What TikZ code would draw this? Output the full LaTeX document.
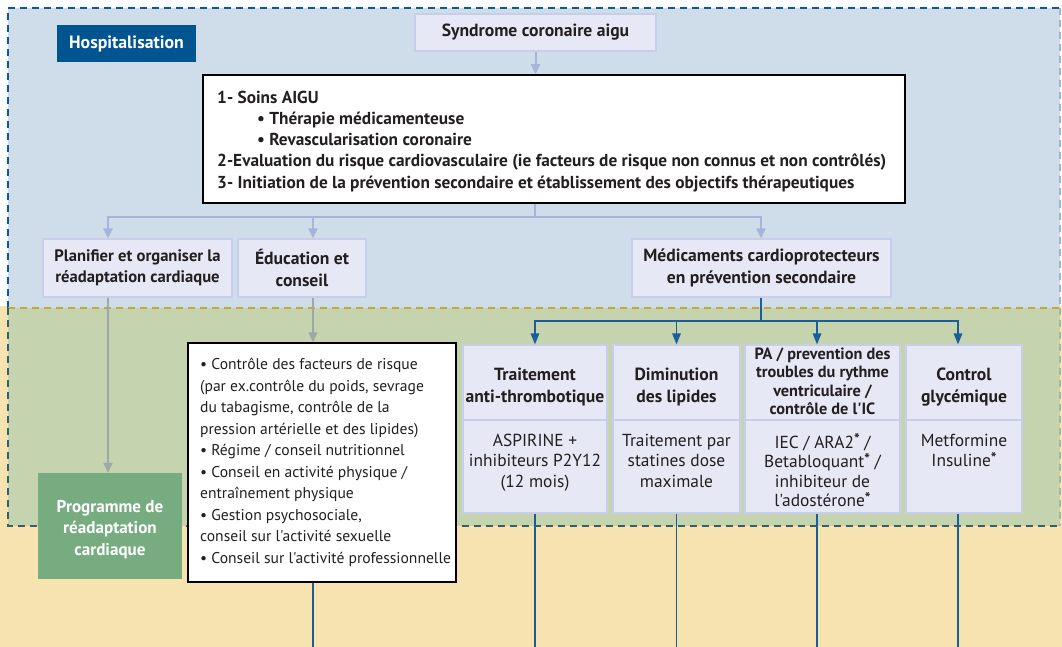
\documentclass[tikz,border=0pt]{standalone}
\usepackage{fontspec}
\setmainfont{PT Sans}[Ligatures=TeXOff]
\usetikzlibrary{arrows.meta,calc}

\definecolor{hospblue}{HTML}{00548F}
\definecolor{zoneblue}{HTML}{CEDDE9}
\definecolor{zonegreen}{HTML}{C5D3AE}
\definecolor{zoneyellow}{HTML}{F7E3AF}
\definecolor{edgeblue}{HTML}{0B5A96}
\definecolor{edgepale}{HTML}{9DB8CE}
\definecolor{edgegold}{HTML}{C3A838}
\definecolor{edgeteal}{HTML}{33606A}
\definecolor{edgesage}{HTML}{A3B7A6}
\definecolor{lavfill}{HTML}{E6E8F5}
\definecolor{lavedge}{HTML}{C8CDEA}
\definecolor{connlight}{HTML}{A5B4D8}
\definecolor{conngrey}{HTML}{9BA9A9}
\definecolor{connblue}{HTML}{1B5E9C}
\definecolor{progreen}{HTML}{77AC80}
\definecolor{ink}{HTML}{231F20}

% raised footnote asterisk
\newcommand{\fnstar}{\raisebox{3.5pt}{\fontsize{15}{15}\selectfont\bfseries *}}

\tikzset{
  lav/.style={fill=lavfill, draw=lavedge, line width=1.2pt, inner sep=0pt},
  wbox/.style={fill=white, draw=black, line width=1.5pt, inner sep=0pt},
  lbl/.style={text=ink, align=center, inner sep=0pt},
  head/.style={lbl, font=\fontsize{17.6}{21.5}\selectfont\bfseries},
  smallhead/.style={lbl, font=\fontsize{16.3}{18.5}\selectfont\bfseries},
  body/.style={lbl, font=\fontsize{17.4}{20.8}\selectfont},
  conL/.style={draw=connlight, line width=2pt, -{Triangle[width=9pt,length=10pt]}},
  lineL/.style={draw=connlight, line width=2pt},
  conG/.style={draw=conngrey, line width=1.5pt, -{Triangle[width=9pt,length=10pt]}},
  conB/.style={draw=connblue, line width=1.5pt, -{Triangle[width=8.5pt,length=11pt]}},
  lineB/.style={draw=connblue, line width=1.5pt},
  zonedash/.style={line width=2pt, dash pattern=on 7pt off 5pt},
}

\begin{document}
\begin{tikzpicture}[x=1pt,y=-1pt]
\useasboundingbox (0,0) rectangle (1062,647);

% background zones
\fill[white] (0,0) rectangle (1062,647);
\fill[zoneyellow] (0,306) rectangle (1062,647);
\fill[zoneblue] (7.5,8.5) rectangle (1060,308);
\fill[zonegreen] (7.5,308) rectangle (1060,526);
\draw[zonedash, edgeblue] (7.5,308) -- (7.5,8.5) -- (1060,8.5);
\draw[zonedash, edgepale, line width=1.5pt] (1060,8.5) -- (1060,308);
\draw[zonedash, edgegold] (7.5,308) -- (1060,308);
\draw[zonedash, edgeteal] (7.5,308) -- (7.5,526) -- (1060,526);
\draw[zonedash, edgesage, line width=1.5pt] (1060,308) -- (1060,526);

% hospital phase
\node[fill=hospblue, text=white, inner sep=0pt, minimum width=139pt, minimum height=37pt,
      font=\fontsize{17.8}{20}\selectfont\bfseries] (hosp) at (126.5,43.5) {Hospitalisation};
\node[lav, head, minimum width=241pt, minimum height=37pt] (synd) at (535.5,32.5) {Syndrome coronaire aigu};

\node[wbox, minimum width=702pt, minimum height=128pt] (big) at (554,139) {};
\node[lbl, anchor=north west, align=left, font=\fontsize{17.3}{21.3}\selectfont\bfseries] (bigtxt) at (217,90.5)
  {1- Soins AIGU\\
   \hspace*{40pt}• Thérapie médicamenteuse\\
   \hspace*{40pt}• Revascularisation coronaire\\
   2-Evaluation du risque cardiovasculaire (ie facteurs de risque non connus et non contrôlés)\\
   3- Initiation de la prévention secondaire et établissement des objectifs thérapeutiques};

\node[lav, head, font=\fontsize{16.6}{21.5}\selectfont\bfseries, minimum width=189pt, minimum height=58pt] (plan) at (137.5,268)
  {Planifier et organiser la\\réadaptation cardiaque};
\node[lav, head, minimum width=128pt, minimum height=58pt] (educ) at (302,268)
  {Éducation et\\conseil};
\node[lav, head, minimum width=259pt, minimum height=58pt] (med) at (761.5,268)
  {Médicaments cardioprotecteurs\\en prévention secondaire};

% rehabilitation programme and education content
\node[fill=progreen, inner sep=0pt, minimum width=144pt, minimum height=106pt] (prog) at (110,526) {};
\node[lbl, text=white, font=\fontsize{17.1}{21.5}\selectfont\bfseries] (progtxt) at (110,529.5)
  {Programme de\\réadaptation\\cardiaque};

\node[wbox, minimum width=268pt, minimum height=239pt] (ctrl) at (322,462.5) {};
\node[lbl, anchor=north west, align=left, font=\fontsize{15.6}{21.5}\selectfont] (ctrltxt) at (200,358)
  {• Contrôle des facteurs de risque\\
   (par ex.contrôle du poids, sevrage\\
   du tabagisme, contrôle de la\\
   pression artérielle et des lipides)\\
   • Régime / conseil nutritionnel\\
   • Conseil en activité physique /\\
   entraînement physique\\
   • Gestion psychosociale,\\
   conseil sur l'activité sexuelle\\
   • Conseil sur l'activité professionnelle};

% drug classes
\node[lav, minimum width=144pt, minimum height=75pt] (t1h) at (535,382.5) {};
\node[lav, minimum width=144pt, minimum height=93pt] (t1b) at (535,466.5) {};
\node[lav, minimum width=127pt, minimum height=75pt] (t2h) at (676.5,382.5) {};
\node[lav, minimum width=127pt, minimum height=93pt] (t2b) at (676.5,466.5) {};
\node[lav, minimum width=155pt, minimum height=75pt] (t3h) at (822.5,382.5) {};
\node[lav, minimum width=155pt, minimum height=93pt] (t3b) at (822.5,466.5) {};
\node[lav, minimum width=116pt, minimum height=75pt] (t4h) at (964,382.5) {};
\node[lav, minimum width=116pt, minimum height=93pt] (t4b) at (964,466.5) {};

\node[head] (t1ht) at (535,387) {Traitement\\anti-thrombotique};
\node[head] (t2ht) at (676.5,387) {Diminution\\des lipides};
\node[smallhead] (t3ht) at (822.5,381.5) {PA / prevention des\\troubles du rythme\\ventriculaire /\\contrôle de l'IC};
\node[head] (t4ht) at (964,387) {Control\\glycémique};

\node[body, anchor=north] (t1bt) at (535,433.5) {ASPIRINE +\\inhibiteurs P2Y12\\(12 mois)};
\node[body, anchor=north] (t2bt) at (676.5,433.5) {Traitement par\\statines dose\\maximale};
\node[body, anchor=north, font=\fontsize{17.4}{19.5}\selectfont] (t3bt) at (822.5,433.5)
  {IEC / ARA2\fnstar{} /\\Betabloquant\fnstar{} /\\inhibiteur de\\l'adostérone\fnstar};
\node[body, anchor=north] (t4bt) at (964,433.5) {Metformine\\Insuline\fnstar};

% connector positions
\coordinate (split) at (535,217);
\coordinate (xplan) at (108,0);
\coordinate (xeduc) at (313,0);
\coordinate (xmed) at (761,0);
\coordinate (bsplit) at (761,321);
\coordinate (a1) at (535,0);
\coordinate (a2) at (676.5,0);
\coordinate (a3) at (817,0);
\coordinate (a4) at (958,0);
\coordinate (bot) at (0,647);

% connectors
\draw[conL] (synd.south) -- (synd.south |- big.north);
\draw[lineL] (split |- big.south) -- (split);
\draw[conL] (split) -| (xplan |- plan.north);
\draw[conL] (split) -| (xeduc |- educ.north);
\draw[conL] (split) -| (xmed |- med.north);

\draw[conG] (xplan |- plan.south) -- (xplan |- prog.north);
\draw[conG] (xeduc |- educ.south) -- (xeduc |- ctrl.north);

\draw[lineB] (xmed |- med.south) -- (bsplit);
\draw[conB] (bsplit) -| (a1 |- t1h.north);
\draw[conB] (bsplit) -| (a2 |- t2h.north);
\draw[conB] (bsplit) -| (a3 |- t3h.north);
\draw[conB] (bsplit) -| (a4 |- t4h.north);

\draw[lineB] (a1 |- t1b.south) -- (a1 |- bot);
\draw[lineB] (a2 |- t2b.south) -- (a2 |- bot);
\draw[lineB] (a3 |- t3b.south) -- (a3 |- bot);
\draw[lineB] (a4 |- t4b.south) -- (a4 |- bot);
\draw[lineB] (xeduc |- ctrl.south) -- (xeduc |- bot);
\end{tikzpicture}
\end{document}
